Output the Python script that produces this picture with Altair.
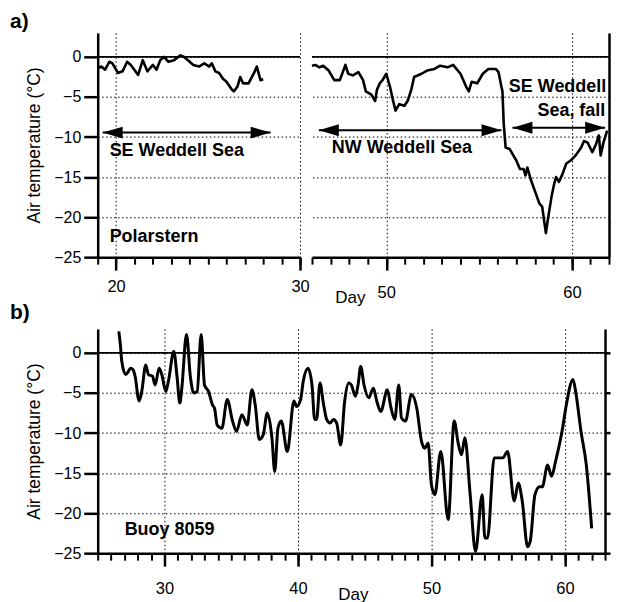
import altair as alt
import pandas as pd

FONT = "Liberation Sans"

# ---------------- data ----------------
# Panel a, Polarstern, days 19-28
a1_day = [19.0, 19.2, 19.4, 19.64, 19.8, 20.1, 20.35, 20.6, 20.8, 21.2, 21.45, 21.7, 22.0,
          22.2, 22.4, 22.6, 22.85, 23.15, 23.5, 23.7, 24.0, 24.2, 24.5, 24.8, 25.05, 25.2,
          25.4, 25.6, 25.8, 26.0, 26.3, 26.4, 26.6, 26.75, 26.9, 27.2, 27.5, 27.65, 27.85, 28.0]
a1_temp = [-1.4, -1.2, -1.6, -0.6, -0.8, -2.0, -1.8, -0.6, -1.0, -2.25, -0.4, -1.8, -1.0,
           -1.6, -0.4, 0.0, -0.6, -0.4, 0.2, 0.0, -0.6, -1.0, -1.2, -0.8, -1.2, -0.8,
           -1.8, -2.0, -2.7, -3.1, -4.1, -4.3, -3.7, -2.5, -3.3, -3.3, -2.0, -1.2, -2.9, -2.8]

# Panel a, Polarstern, days 46-62
a2_day = [46.0, 46.17, 46.4, 46.6, 46.9, 47.2, 47.5, 47.8, 47.95, 48.2, 48.5, 48.75, 48.9,
          49.2, 49.4, 49.5, 49.65, 49.8, 50.0, 50.2, 50.35, 50.5, 50.7, 50.98, 51.15, 51.35,
          51.5, 51.9, 52.2, 52.6, 52.9, 53.3, 53.6, 54.0, 54.3, 54.45, 54.6, 54.9, 55.2,
          55.5, 55.9, 56.05, 56.2, 56.26, 56.33, 56.43, 56.65, 56.8, 57.0, 57.2, 57.4,
          57.5, 57.6, 57.8, 58.0, 58.25, 58.4, 58.6, 58.7, 58.9, 59.05, 59.15, 59.3, 59.5,
          59.7, 59.95, 60.2, 60.5, 60.65, 60.85, 61.1, 61.3, 61.45, 61.55, 61.7, 61.9]
a2_temp = [-1.1, -1.0, -1.3, -1.1, -1.7, -2.9, -2.9, -1.0, -2.1, -2.3, -1.9, -2.9, -4.3,
           -4.7, -5.5, -4.1, -3.3, -2.9, -2.1, -3.7, -5.3, -6.7, -5.9, -6.1, -5.5, -4.1,
           -2.5, -2.1, -1.7, -1.5, -1.1, -1.3, -1.0, -2.1, -3.7, -4.3, -3.1, -3.3, -2.1,
           -1.5, -1.5, -1.9, -3.7, -4.3, -8.4, -11.3, -11.5, -12.1, -12.9, -14.0, -14.0,
           -14.8, -13.8, -15.4, -16.7, -18.3, -18.7, -22.0, -20.4, -17.5, -15.8, -15.0,
           -15.6, -14.6, -13.3, -12.9, -12.3, -11.3, -10.5, -10.7, -11.9, -10.9, -9.8,
           -12.3, -10.7, -9.2]

# Panel b, Buoy 8059
b_day = [26.58, 26.7, 26.8, 27.1, 27.3, 27.45, 27.65, 27.8, 28.1, 28.3, 28.6, 28.8, 29.1,
         29.3, 29.6, 29.8, 30.1, 30.3, 30.7, 30.95, 31.15, 31.3, 31.65, 31.95, 32.2, 32.45,
         32.75, 33.0, 33.3, 33.6, 33.75, 33.95, 34.3, 34.7, 35.1, 35.4, 35.8, 36.2, 36.55,
         36.8, 37.1, 37.4, 37.7, 38.05, 38.26, 38.5, 38.75, 39.2, 39.7, 39.9, 40.2, 40.4,
         40.75, 41.05, 41.25, 41.4, 41.65, 41.9, 42.15, 42.4, 42.65, 42.9, 43.2, 43.5, 43.8,
         44.0, 44.3, 44.5, 44.7, 44.95, 45.3, 45.65, 45.9, 46.2, 46.7, 46.95, 47.25, 47.55,
         47.75, 48.05, 48.5, 48.9, 49.25, 49.5, 49.75, 50.0, 50.25, 50.7, 51.25, 51.7, 52.0,
         52.25, 52.5, 52.9, 53.3, 53.8, 54.0, 54.2, 54.7, 55.35, 55.7, 56.2, 56.5, 56.8,
         57.2, 57.4, 57.75, 58.1, 58.3, 58.7, 59.0, 59.3, 59.8, 60.1, 60.6, 60.8, 61.2,
         61.6, 62.0]
b_temp = [2.7, 1.0, -1.0, -2.7, -2.3, -1.9, -2.1, -2.9, -6.0, -4.8, -1.5, -2.7, -2.9,
          -4.0, -1.9, -2.7, -4.8, -3.5, 0.2, -3.1, -6.25, -4.4, 2.3, -3.1, -5.0, -4.8,
          2.3, -4.0, -4.8, -6.5, -6.9, -9.0, -9.4, -5.8, -8.5, -9.8, -7.7, -9.0, -4.6,
          -6.5, -10.8, -10.2, -7.5, -10.6, -14.8, -9.4, -8.5, -12.3, -6.0, -6.7, -5.8, -3.5,
          -1.9, -4.0, -8.3, -8.3, -3.75, -6.25, -8.3, -8.75, -8.3, -8.75, -11.5, -6.0, -3.75,
          -4.0, -5.4, -4.0, -1.7, -4.0, -5.6, -4.4, -6.0, -7.3, -4.6, -6.7, -8.3, -4.0,
          -8.1, -8.5, -5.2, -6.9, -11.0, -11.9, -11.25, -16.5, -17.7, -12.3, -20.8, -8.5, -11.25,
          -12.7, -10.6, -17.7, -24.8, -17.7, -23.1, -23.1, -13.1, -13.1, -12.3, -18.5, -16.25, -18.5,
          -24.2, -23.5, -17.7, -16.7, -16.7, -14.0, -15.4, -13.5, -9.6, -6.5, -3.3, -4.8, -9.8,
          -14.0, -21.9]

# axis tick values
y_ticks = [-25, -20, -15, -10, -5, 0]
a1_major = [20, 30]
a2_major = [50, 60]
b_major = [30, 40, 50, 60]
a1_minor = list(range(19, 31))
a2_minor = list(range(46, 63))
b_minor = list(range(25, 64))

# annotations
a1_arrows = {"x1": [19.27], "x2": [28.4], "y": [-9.45]}
a2_arrows = {"x1": [46.37, 56.8], "x2": [56.21, 61.79], "y": [-9.15, -8.85]}
a1_text = {"x": [19.65, 19.65], "y": [-11.7, -22.5], "t": ["SE Weddell Sea", "Polarstern"]}
a2_text_l = {"x": [47.07], "y": [-11.4], "t": ["NW Weddell Sea"]}
a2_text_r = {"x": [61.85, 61.8], "y": [-3.7, -6.8], "t": ["SE Weddell", "Sea, fall"]}
b_text = {"x": [27.02], "y": [-22.1], "t": ["Buoy 8059"]}

# ---------------- helpers ----------------
Y_DOMAIN = [-25, 3]
DASH = [1.5, 2.5]
LEFT_ARROW = "M0,0L2,-0.6L2,0.6Z"
RIGHT_ARROW = "M0,0L-2,-0.6L-2,0.6Z"


def ys():
    return alt.Scale(domain=Y_DOMAIN, nice=False, zero=False)


def left_y_axis():
    return alt.Axis(orient="left", values=y_ticks, tickSize=14, tickWidth=2.5, tickColor="black",
                    domainWidth=2.5, domainColor="black", labelFontSize=16, labelColor="black",
                    labelPadding=3, labelFont=FONT, title="Air temperature (°C)",
                    titleFontSize=17.5, titleFont=FONT, titleFontWeight="normal",
                    titleColor="black", titlePadding=10, grid=True, gridDash=DASH,
                    gridColor="black", gridWidth=1)


def right_y_axis(grid, ticklen):
    return alt.Axis(orient="right", values=y_ticks, tickSize=ticklen, ticks=ticklen > 0,
                    tickWidth=2.5, tickColor="black", domainWidth=2.5, domainColor="black",
                    labels=False, title=None, grid=grid, gridDash=DASH, gridColor="black",
                    gridWidth=1)


def major_x_axis(values, pad, title=None, tx=None, ty=None):
    if title:
        kw = dict(title=title, titleX=tx, titleY=ty, titleAlign="center",
                  titleBaseline="alphabetic", titleFontSize=17, titleFont=FONT,
                  titleFontWeight="normal", titleColor="black")
    else:
        kw = dict(title=None)
    return alt.Axis(orient="bottom", values=values, tickSize=13, tickWidth=2.5,
                    tickColor="black", domainWidth=2.5, domainColor="black",
                    labelFontSize=16.5, labelFont=FONT, labelColor="black",
                    labelBaseline="alphabetic", labelPadding=pad, labelFlush=False,
                    grid=True, gridDash=DASH, gridColor="black", gridWidth=1, **kw)


def minor_x_axis(values):
    return alt.Axis(orient="bottom", values=values, tickSize=7, tickWidth=2,
                    tickColor="black", labels=False, domain=False, grid=False, title=None)


def panel(day, temp, xdom, major, pad, minor, width, left_axis, right_axis, arrows, texts,
          stroke, interp, title=None, xtitle=None):
    xs = alt.Scale(domain=xdom, nice=False, zero=False)
    df = pd.DataFrame({"day": day, "temp": temp})
    tx, ty = (xtitle[1], xtitle[2]) if xtitle else (None, None)
    line = alt.Chart(df).mark_line(color="black", strokeWidth=stroke, interpolate=interp,
                                   strokeJoin="round").encode(
        x=alt.X("day:Q", scale=xs,
                axis=major_x_axis(major, pad, xtitle[0] if xtitle else None, tx, ty)),
        y=alt.Y("temp:Q", scale=ys(), axis=left_axis),
    )
    axes = alt.Chart(df).mark_point(opacity=0).encode(
        x=alt.X("day:Q", scale=xs, axis=minor_x_axis(minor)),
        y=alt.Y("temp:Q", scale=ys(), axis=right_axis),
    )
    zero = alt.Chart(pd.DataFrame({"y": [0]})).mark_rule(color="black", strokeWidth=1.8).encode(
        y=alt.Y("y:Q", scale=ys(), axis=None))
    layers = [line, axes, zero]
    if arrows:
        adf = pd.DataFrame(arrows)
        layers.append(alt.Chart(adf).mark_rule(color="black", strokeWidth=2).encode(
            x=alt.X("x1:Q", scale=xs, axis=None), x2="x2:Q",
            y=alt.Y("y:Q", scale=ys(), axis=None)))
        layers.append(alt.Chart(adf).mark_point(shape=LEFT_ARROW, size=400, filled=True,
                                                color="black", opacity=1, strokeWidth=0).encode(
            x=alt.X("x1:Q", scale=xs, axis=None), y=alt.Y("y:Q", scale=ys(), axis=None)))
        layers.append(alt.Chart(adf).mark_point(shape=RIGHT_ARROW, size=400, filled=True,
                                                color="black", opacity=1, strokeWidth=0).encode(
            x=alt.X("x2:Q", scale=xs, axis=None), y=alt.Y("y:Q", scale=ys(), axis=None)))
    for tdict, align in texts:
        tdf = pd.DataFrame(tdict)
        layers.append(alt.Chart(tdf).mark_text(align=align, baseline="middle", fontSize=18,
                                               fontWeight="bold", font=FONT, color="black").encode(
            x=alt.X("x:Q", scale=xs, axis=None), y=alt.Y("y:Q", scale=ys(), axis=None),
            text="t:N"))
    props = dict(width=width, height=225)
    if title:
        props["title"] = title
    return alt.layer(*layers).resolve_axis(x="independent", y="independent").properties(**props)


a_title = alt.TitleParams("a)", anchor="start", frame="group", fontSize=21, fontWeight="bold",
                          font=FONT, color="black", dx=-88, dy=20, offset=4,
                          baseline="alphabetic")
b_title = alt.TitleParams("b)", anchor="start", frame="group", fontSize=21, fontWeight="bold",
                          font=FONT, color="black", dx=-88, dy=20, offset=9,
                          baseline="alphabetic")

a_left = panel(a1_day, a1_temp, [19, 30], a1_major, 21, a1_minor, 203, left_y_axis(), None,
               a1_arrows, [(a1_text, "left")], 2.6, "linear", title=a_title)
a_right = panel(a2_day, a2_temp, [46, 62], a2_major, 27, a2_minor, 298, None,
                right_y_axis(True, 0), a2_arrows, [(a2_text_l, "left"), (a2_text_r, "right")],
                2.6, "linear", xtitle=("Day", 38, 45))
b = panel(b_day, b_temp, [25, 63], b_major, 27, b_minor, 509, left_y_axis(),
          right_y_axis(False, 5), None, [(b_text, "left")], 3.0, "monotone", title=b_title,
          xtitle=("Day", 256, 46))

top = alt.hconcat(a_left, a_right, spacing=12, bounds="flush")
chart = alt.vconcat(top, b, spacing=-4).properties(
    padding={"left": 2, "top": 2, "right": 0, "bottom": 0}
).configure_view(stroke=None)

chart.save("out.html", embed_options={"renderer": "svg", "actions": False})
